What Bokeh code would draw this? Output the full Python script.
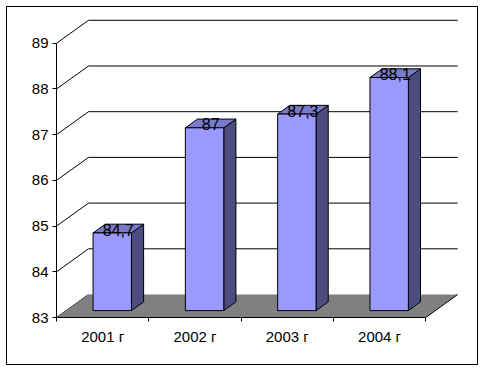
from bokeh.plotting import figure
from bokeh.models import LinearAxis, FixedTicker, Range1d
from bokeh.core.properties import value
from bokeh.embed import file_html
from bokeh.resources import INLINE

# ---- data ----
years = ["2001 г", "2002 г", "2003 г", "2004 г"]
values = [84.7, 87.0, 87.3, 88.1]
y_ticks = [83, 84, 85, 86, 87, 88, 89]
y_base = 83

# ---- 3D projection constants (layout, not data) ----
DX = 0.3467   # depth offset in category units
DY = 0.5033   # depth offset in value units
HW = 0.208    # half bar width (category units)
F1 = 0.30     # bar front depth fraction
F2 = 0.68     # bar back depth fraction
FONT = "Liberation Sans"

n = len(years)
p = figure(width=479, height=366,
           x_range=Range1d(-0.5417, 4.561), y_range=Range1d(81.972, 89.805),
           output_backend="svg", toolbar_location=None,
           x_axis_type=None, y_axis_type=None,
           min_border_left=6, min_border_top=6, min_border_right=2, min_border_bottom=2,
           outline_line_color="black", outline_line_width=1,
           background_fill_color="white", border_fill_color="white")
p.grid.visible = False

# back wall gridlines and diagonals
p.segment(x0=[DX] * (len(y_ticks) - 1), y0=[t + DY for t in y_ticks[1:]],
          x1=[n + DX] * (len(y_ticks) - 1), y1=[t + DY for t in y_ticks[1:]],
          line_color="black", line_width=1)
p.segment(x0=[0] * len(y_ticks), y0=y_ticks,
          x1=[DX] * len(y_ticks), y1=[t + DY for t in y_ticks],
          line_color="black", line_width=1)

# floor
p.patch(x=[0, n, n + DX, DX], y=[y_base, y_base, y_base + DY, y_base + DY],
        fill_color="#808080", line_color=None)
p.segment(x0=[n], y0=[y_base], x1=[n + DX], y1=[y_base + DY],
          line_color="black", line_width=1)

# bars
fx, fy, tx, ty, sx, sy = [], [], [], [], [], []
lx, ly, lt = [], [], []
for i, v in enumerate(values):
    c = i + 0.5
    xl1, xr1 = c - HW + F1 * DX, c + HW + F1 * DX
    xl2, xr2 = c - HW + F2 * DX, c + HW + F2 * DX
    b1, b2 = y_base + F1 * DY, y_base + F2 * DY
    t1, t2 = v + F1 * DY, v + F2 * DY
    fx.append([xl1, xr1, xr1, xl1]); fy.append([b1, b1, t1, t1])
    tx.append([xl1, xr1, xr2, xl2]); ty.append([t1, t1, t2, t2])
    sx.append([xr1, xr2, xr2, xr1]); sy.append([b1, b2, t2, t1])
    fm = (F1 + F2) / 2
    lx.append(c + fm * DX); ly.append(v + fm * DY)
    lt.append(("%g" % v).replace(".", ","))

p.patches(xs=sx, ys=sy, fill_color="#4C4C80", line_color="black", line_width=1)
p.patches(xs=tx, ys=ty, fill_color="#7A7ACC", line_color="black", line_width=1)
p.patches(xs=fx, ys=fy, fill_color="#9999FF", line_color="black", line_width=1)

p.text(x=lx, y=ly, text=lt, text_align="center", text_baseline="alphabetic",
       y_offset=1, text_font=value(FONT), text_font_size="16px", text_color="black")

# value axis (front)
ya = LinearAxis(fixed_location=0, ticker=FixedTicker(ticks=y_ticks),
                bounds=(y_ticks[0], y_ticks[-1]),
                major_tick_out=4, major_tick_in=0, minor_tick_out=0, minor_tick_in=0,
                major_label_standoff=4, major_label_text_font=FONT,
                major_label_text_font_size="15px", major_label_text_color="black",
                axis_line_color="black", major_tick_line_color="black")
p.add_layout(ya, "left")

# category tick marks
xa = LinearAxis(fixed_location=y_base, ticker=FixedTicker(ticks=list(range(n + 1))),
                bounds=(0, n), major_tick_out=4, major_tick_in=0,
                minor_tick_out=0, minor_tick_in=0,
                major_label_text_alpha=0, major_label_text_font_size="1px",
                axis_line_color="black", major_tick_line_color="black")
p.add_layout(xa, "below")

# category labels
centers = [i + 0.5 for i in range(n)]
xl = LinearAxis(fixed_location=y_base, ticker=FixedTicker(ticks=centers),
                major_label_overrides={c: y for c, y in zip(centers, years)},
                major_tick_out=0, major_tick_in=0, minor_tick_out=0, minor_tick_in=0,
                major_label_standoff=10, major_label_text_font=FONT,
                major_label_text_font_size="15px", major_label_text_color="black",
                axis_line_color=None)
p.add_layout(xl, "below")

open("out.html", "w").write(file_html(p, INLINE))
